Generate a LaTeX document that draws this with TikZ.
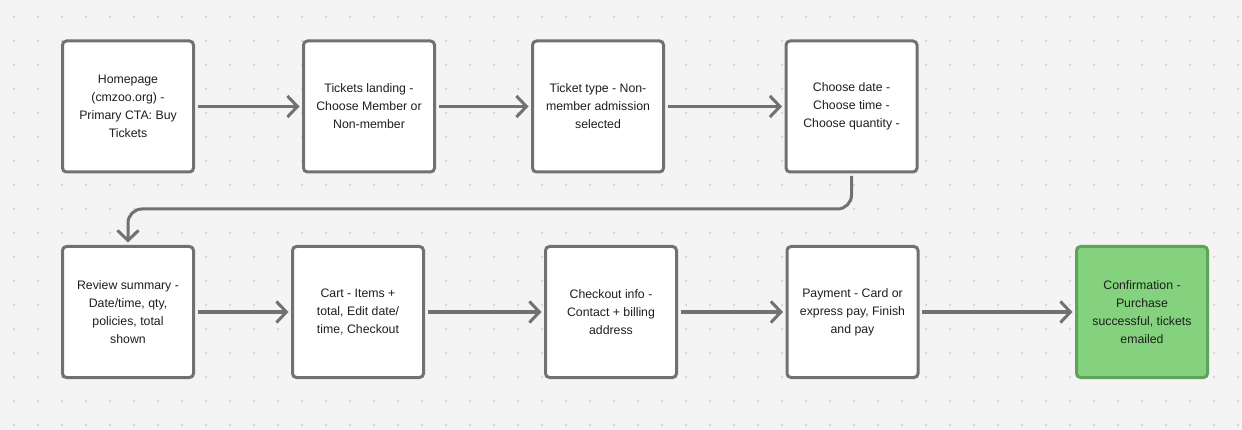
\documentclass[tikz,border=0pt]{standalone}
\usepackage{fontspec}
\setmainfont{Liberation Sans}
\usepackage{xcolor}
\usepackage{tikz}
\usetikzlibrary{arrows.meta, positioning}
\definecolor{canvas}{HTML}{F4F4F4}
\definecolor{griddot}{HTML}{C4C4C4}
\definecolor{edgegray}{HTML}{717171}
\definecolor{okfill}{HTML}{84D27E}
\definecolor{okedge}{HTML}{5EA35A}
\definecolor{ink}{HTML}{1E1E1E}

\begin{document}
\begin{tikzpicture}[
    x=1pt, y=1pt,
    font=\fontsize{12.3}{18}\selectfont,
    box/.style={draw=edgegray, line width=3pt, outer sep=0pt, rounded corners=4pt, align=center, minimum width=131pt, minimum height=131pt, fill=white, text=ink},
    donebox/.style={box, draw=okedge, fill=okfill},
    arrow/.style={-{Straight Barb[length=10pt, width=21pt]}, line width=3pt, draw=edgegray, shorten <=4pt, shorten >=4pt}
]
\fill[canvas] (0,0) rectangle (1242,-430);
\useasboundingbox (0,0) rectangle (1242,-430);
\foreach \gx in {14,38,...,1238}
  \foreach \gy in {17,41,...,425}
    \fill[griddot] (\gx,-\gy) circle (1pt);

\node[box] (home) at (128,-106.5) {Homepage\\(cmzoo.org) -\\Primary CTA: Buy\\Tickets};
\node[box, right=110pt of home] (landing) {Tickets landing -\\Choose Member or\\Non-member};
\node[box, right=98pt of landing] (tickettype) {Ticket type - Non-\\member admission\\selected};
\node[box, right=122.5pt of tickettype] (datetime) {Choose date -\\Choose time -\\Choose quantity -};
\node[box, below=74.5pt of home] (review) {Review summary -\\Date/time, qty,\\policies, total\\shown};
\node[box, right=99pt of review] (cart) {Cart - Items +\\total, Edit date/\\time, Checkout};
\node[box, right=122pt of cart] (checkout) {Checkout info -\\Contact + billing\\address};
\node[box, right=110.5pt of checkout] (payment) {Payment - Card or\\express pay, Finish\\and pay};
\node[donebox, right=158.5pt of payment] (confirm) {Confirmation -\\Purchase\\successful, tickets\\emailed};

\draw[arrow] (home) -- (landing);
\draw[arrow] (landing) -- (tickettype);
\draw[arrow] (tickettype) -- (datetime);
\draw[arrow, rounded corners=14pt] (datetime.south) -- ++(0,-37) -| (review.north);
\draw[arrow] (review) -- (cart);
\draw[arrow] (cart) -- (checkout);
\draw[arrow] (checkout) -- (payment);
\draw[arrow] (payment) -- (confirm);
\end{tikzpicture}
\end{document}
